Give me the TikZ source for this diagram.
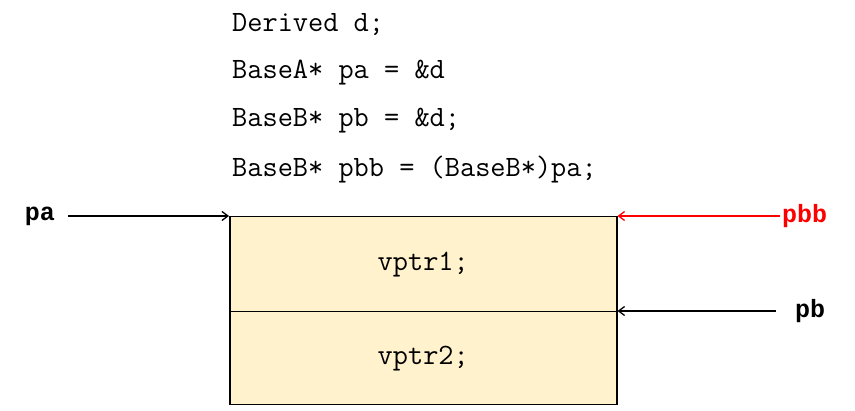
\documentclass[tikz,border=0pt]{standalone}
\usepackage{fontspec}
\newfontfamily\lblfont{Liberation Mono}
\usetikzlibrary{arrows.meta}
\definecolor{boxfill}{HTML}{FFF2CC}
\begin{document}
\begin{tikzpicture}[x=1pt,y=-1pt,
  code/.style={font=\ttfamily\fontsize{29.5}{30}\selectfont,anchor=west,inner sep=0},
  lbl/.style={font=\lblfont\bfseries\fontsize{25}{25}\selectfont,inner sep=0},
  arr/.style={-{Straight Barb[length=6pt,width=9pt]},line width=1.3pt}]
\useasboundingbox (0,0) rectangle (855,411);
\node[code] (l1) at (232,25) {Derived d;};
\node[code] (l2) at (232,73) {BaseA* pa = \&d};
\node[code] (l3) at (232,121) {BaseB* pb = \&d;};
\node[code] (l4) at (232,170) {BaseB* pbb = (BaseB*)pa;};
\node[draw,line width=1.5pt,fill=boxfill,minimum width=387pt,minimum height=95pt,anchor=north west,inner sep=0,font=\ttfamily\fontsize{29.5}{30}\selectfont] (v1) at (229,216) {vptr1;};
\node[draw,line width=1.5pt,fill=boxfill,minimum width=387pt,minimum height=93pt,anchor=north west,inner sep=0,font=\ttfamily\fontsize{29.5}{30}\selectfont] (v2) at (229,311) {vptr2;};
\node[lbl,anchor=east] (pa) at (55,216) {pa};
\node[lbl,anchor=west,red] (pbb) at (782,216) {pbb};
\node[lbl,anchor=west] (pb) at (795,311) {pb};
\draw[arr] (pa.east) ++(13,0) -- (v1.north west);
\draw[arr,red] (pbb.west) ++(-2,0) -- (v1.north east);
\draw[arr] (pb.west) ++(-19,0) -- (v2.north east);
\end{tikzpicture}
\end{document}
